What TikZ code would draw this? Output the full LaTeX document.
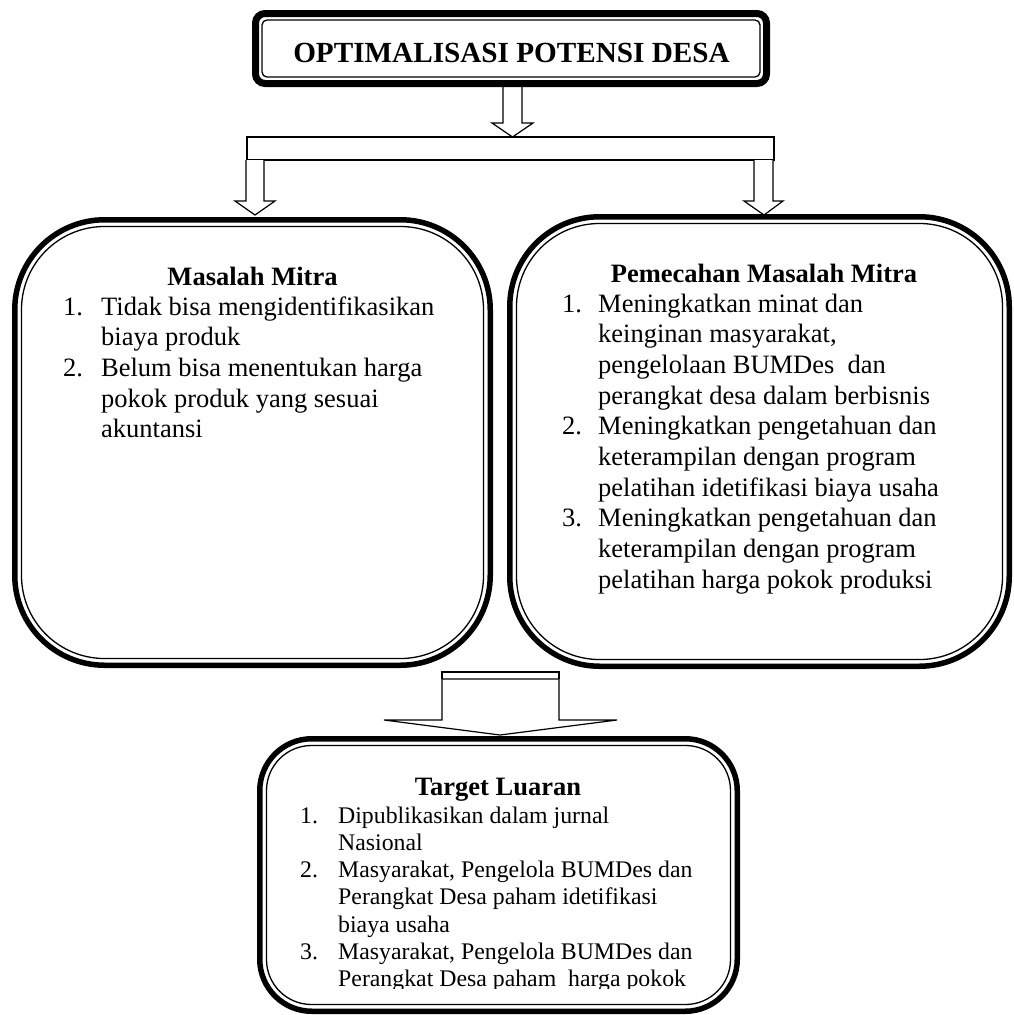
\documentclass[tikz,border=0pt]{standalone}
\usepackage{fontspec}
\setmainfont{Liberation Serif}
\usepackage{array}
\newcommand\bigtxt{\fontsize{26.5}{30.7}\selectfont}
\newcommand\smalltxt{\fontsize{23.8}{27.3}\selectfont}
% #1 node, #2 thick width, #3 radius of thick path, #4 thin inset, #5 thin radius
\newcommand\dbox[5]{%
  \draw[line width=#2pt, rounded corners=#3pt] ([shift={(#2/2,#2/2)}]#1.north west) rectangle ([shift={(-#2/2,-#2/2)}]#1.south east);
  \draw[line width=1.3pt, rounded corners=#5pt] ([shift={(#4,#4)}]#1.north west) rectangle ([shift={(-#4,-#4)}]#1.south east);}
\begin{document}
\begin{tikzpicture}[x=1pt,y=-1pt,
  area/.style={inner sep=0pt, outer sep=0pt, draw=none},
  blk/.style={draw, line width=1.2pt, fill=white, line join=miter},
  head/.style={anchor=base, inner sep=0pt, font=\bfseries\bigtxt},
  lst/.style={anchor=base west, inner sep=0pt}]
\useasboundingbox (0,0) rectangle (1014,1015);
% box areas
\node[area, minimum width=518pt, minimum height=77pt] (title) at (511,48.5) {};
\node[area, minimum width=481pt, minimum height=451pt] (mm) at (252.5,442.5) {};
\node[area, minimum width=505pt, minimum height=455pt] (pm) at (759.5,441.5) {};
\node[area, minimum width=483pt, minimum height=278pt] (tl) at (498.5,875) {};
% arrows
\draw[blk] (503,87) -- (503,123) -- (492,123) -- (512.5,137) -- (533,123) -- (522,123) -- (522,87);
\draw[blk] (247,137) rectangle (774,160);
\draw[blk] (246,160) -- (246,201) -- (235,201) -- (255,215) -- (275,201) -- (264,201) -- (264,160);
\draw[blk] (754,160) -- (754,201) -- (744,201) -- (764,215) -- (783,201) -- (773,201) -- (773,160);
\draw[blk] (442,679) -- (442,720) -- (384,720) -- (500,735) -- (617,720) -- (559,720) -- (559,679) -- cycle;
\draw[line width=1.2pt] (442,671) -- (442,679) (559,671) -- (559,679);
\draw[line width=2.5pt] (441.4,672) -- (559.6,672);
% boxes
\dbox{title}{7}{9.5}{10}{5}
\dbox{mm}{5.5}{90}{9.5}{83}
\dbox{pm}{5.5}{90}{9.5}{83}
\dbox{tl}{5.5}{52}{9.5}{45}
% texts
\node[anchor=base, inner sep=0pt, font=\bfseries\fontsize{29.2}{34}\selectfont] (tt) at (511.5,62) {OPTIMALISASI POTENSI DESA};
\node[head] (mmh) at (252.5,285) {Masalah Mitra};
\node[lst] (mml) at (63,315) {\bigtxt\begin{tabular}[t]{@{}p{38pt}@{}l@{}}
1. & Tidak bisa mengidentifikasikan\\
   & biaya produk\\
2. & Belum bisa menentukan harga\\
   & pokok produk yang sesuai\\
   & akuntansi
\end{tabular}};
\node[head] (pmh) at (764,282) {Pemecahan Masalah Mitra};
\node[lst] (pml) at (562,312) {\bigtxt\begin{tabular}[t]{@{}p{36pt}@{}l@{}}
1. & Meningkatkan minat dan\\
   & keinginan masyarakat,\\
   & pengelolaan BUMDes~ dan\\
   & perangkat desa dalam berbisnis\\
2. & Meningkatkan pengetahuan dan\\
   & keterampilan dengan program\\
   & pelatihan idetifikasi biaya usaha\\
3. & Meningkatkan pengetahuan dan\\
   & keterampilan dengan program\\
   & pelatihan harga pokok produksi
\end{tabular}};
\node[head] (tlh) at (498,795) {Target Luaran};
\begin{scope}
\clip (260,740) rectangle (735,988);
\node[lst] (tll) at (300,823) {\smalltxt\begin{tabular}[t]{@{}p{38pt}@{}l@{}}
1. & Dipublikasikan dalam jurnal\\
   & Nasional\\
2. & Masyarakat, Pengelola BUMDes dan\\
   & Perangkat Desa paham idetifikasi\\
   & biaya usaha\\
3. & Masyarakat, Pengelola BUMDes dan\\
   & Perangkat Desa paham~ harga pokok
\end{tabular}};
\end{scope}
\end{tikzpicture}
\end{document}
